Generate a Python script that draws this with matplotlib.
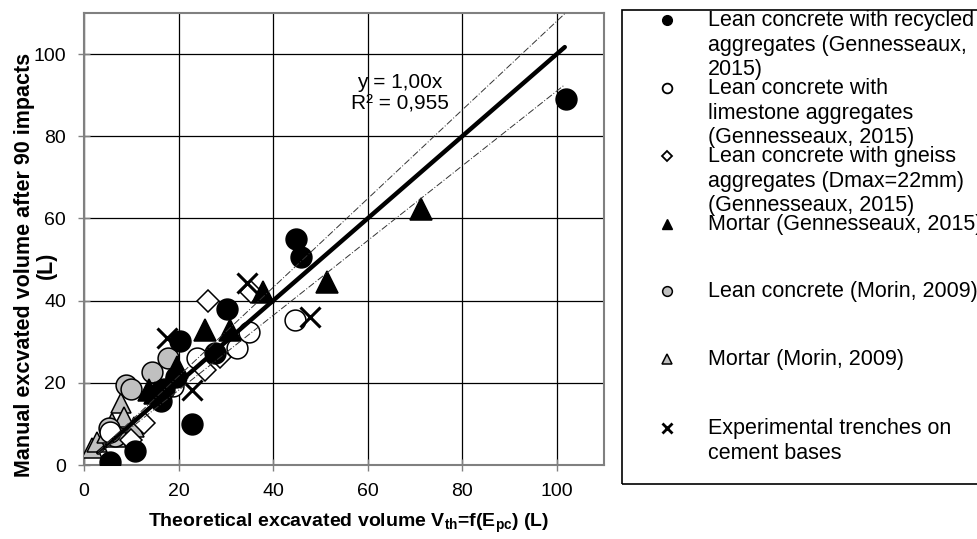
import matplotlib.pyplot as plt
from matplotlib.lines import Line2D
from matplotlib.patches import Rectangle

plt.rcParams['font.family'] = ['Liberation Sans', 'DejaVu Sans']
plt.rcParams['mathtext.fontset'] = 'custom'
plt.rcParams['mathtext.rm'] = 'Liberation Sans'
plt.rcParams['mathtext.bf'] = 'Liberation Sans:bold'

# Lean concrete with recycled aggregates (Gennesseaux, 2015)
recycled_x = [5.4, 10.8, 16.2, 17.0, 19.5, 20.4, 22.8, 27.7, 30.3, 44.8, 45.8, 101.9]
recycled_y = [0.8, 3.3, 15.5, 18.5, 21.5, 30.2, 10.0, 27.3, 38.0, 55.0, 50.5, 89.0]

# Lean concrete with limestone aggregates (Gennesseaux, 2015)
limestone_x = [5.5, 18.8, 23.9, 32.3, 34.8, 44.6]
limestone_y = [8.0, 19.2, 26.0, 28.5, 32.3, 35.3]

# Lean concrete with gneiss aggregates (Gennesseaux, 2015)
gneiss_x = [9.9, 12.7, 25.6, 26.2, 28.8, 35.3]
gneiss_y = [6.1, 10.2, 23.0, 40.0, 26.2, 42.0]

# Mortar (Gennesseaux, 2015)
mortar_g_x = [13.7, 15.0, 19.7, 25.6, 30.9, 37.8, 51.4, 71.2]
mortar_g_y = [18.2, 17.5, 23.8, 32.8, 32.8, 42.1, 44.6, 62.3]

# Lean concrete (Morin, 2009)
lean_m_x = [5.3, 6.5, 8.9, 9.9, 14.3, 17.8]
lean_m_y = [9.0, 7.0, 19.5, 18.5, 22.6, 26.0]

# Mortar (Morin, 2009)
mortar_m_x = [1.7, 2.7, 4.9, 5.9, 6.8, 7.8, 8.5, 10.6]
mortar_m_y = [4.1, 5.6, 7.8, 10.2, 6.8, 15.1, 11.7, 9.2]

# Experimental trenches on cement bases
trench_x = [17.5, 22.8, 34.4, 47.8]
trench_y = [31.0, 18.2, 44.3, 36.0]

fit_slope = 1.00
r_squared = 0.955
band_slopes = [1.08, 0.91]
fit_range = [3.0, 101.7]

legend_labels = [
    "Lean concrete with recycled\naggregates (Gennesseaux,\n2015)",
    "Lean concrete with\nlimestone aggregates\n(Gennesseaux, 2015)",
    "Lean concrete with gneiss\naggregates (Dmax=22mm)\n(Gennesseaux, 2015)",
    "Mortar (Gennesseaux, 2015)",
    "Lean concrete (Morin, 2009)",
    "Mortar (Morin, 2009)",
    "Experimental trenches on\ncement bases",
]

W, H = 977, 539
fig = plt.figure(figsize=(W / 100, H / 100), dpi=100)
ax = fig.add_axes([84 / W, 1 - 465 / H, 520 / W, 452 / H])

gray = '#c0c0c0'
ew = 1.1
series = [
    (mortar_m_x, mortar_m_y, dict(marker='^', ms=15, mfc=gray, mec='black', mew=ew), 3),
    (lean_m_x, lean_m_y, dict(marker='o', ms=15, mfc=gray, mec='black', mew=ew), 3.1),
    (limestone_x, limestone_y, dict(marker='o', ms=15, mfc='white', mec='black', mew=ew), 3.2),
    (gneiss_x, gneiss_y, dict(marker='D', ms=11, mfc='white', mec='black', mew=ew), 3.3),
    (mortar_g_x, mortar_g_y, dict(marker='^', ms=16, mfc='black', mec='black', mew=ew), 3.4),
    (trench_x, trench_y, dict(marker='x', ms=14, mec='black', mew=2.2), 3.5),
    (recycled_x, recycled_y, dict(marker='o', ms=15, mfc='black', mec='black', mew=ew), 3.6),
]
for xs, ys, style, z in series:
    ax.plot(xs, ys, linestyle='none', zorder=z, **style)

# fitted line through the origin and the two bounding lines
ax.plot(fit_range, [fit_slope * v for v in fit_range], color='black', lw=3.2,
        solid_capstyle='round', zorder=5)
for s in band_slopes:
    ax.plot(fit_range, [s * v for v in fit_range], color='#333333', lw=0.7,
            dashes=(7, 2, 1, 2), zorder=5)

eq_text = ("y = %.2fx\nR² = %.3f" % (fit_slope, r_squared)).replace('.', ',')
ax.text(66.8, 90.5, eq_text, ha='center', va='center', fontsize=15,
        linespacing=1.12)

ax.set_xlim(0, 110)
ax.set_ylim(0, 110)
ax.set_xticks(range(0, 101, 20))
ax.set_yticks(range(0, 101, 20))
ax.grid(True, color='black', lw=0.9)
ax.set_axisbelow(True)
for sp in ax.spines.values():
    sp.set_color('#808080')
    sp.set_linewidth(1.5)
ax.tick_params(direction='inout', length=8, width=1, color='#808080',
               labelsize=14, pad=9)

fig.text(349 / W, 1 - 523 / H,
         r"Theoretical excavated volume V$_\mathbf{th}$=f(E$_\mathbf{pc}$) (L)",
         ha='center', va='center', fontsize=14, fontweight='bold')
fig.text(35 / W, 1 - 265 / H, "Manual excvated volume after 90 impacts\n(L)",
         ha='center', va='center', rotation=90, fontsize=15.5,
         fontweight='bold', multialignment='center', linespacing=1.05)

# legend box drawn by hand so long labels wrap below their marker
fig.patches.append(Rectangle((622 / W, 1 - 484 / H), 380 / W, 474 / H,
                             transform=fig.transFigure, fill=False,
                             edgecolor='black', lw=1.2, clip_on=False))
legend_styles = [
    dict(marker='o', ms=7, mfc='black', mec='black'),
    dict(marker='o', ms=7, mfc='white', mec='black', mew=1.3),
    dict(marker='D', ms=5, mfc='white', mec='black', mew=1.3),
    dict(marker='^', ms=7, mfc='black', mec='black'),
    dict(marker='o', ms=7, mfc=gray, mec='black', mew=1.1),
    dict(marker='^', ms=7, mfc=gray, mec='black', mew=1.1),
    dict(marker='x', ms=7, mec='black', mew=2),
]
row_y = [20, 88, 156, 224, 291, 359, 428]
for label, style, py in zip(legend_labels, legend_styles, row_y):
    fig.add_artist(Line2D([667 / W], [1 - py / H], transform=fig.transFigure,
                          linestyle='none', **style))
    fig.text(708 / W, 1 - (py - 10) / H, label, ha='left', va='top',
             fontsize=15.5, linespacing=1.22)

fig.savefig('out.png', dpi=100)
